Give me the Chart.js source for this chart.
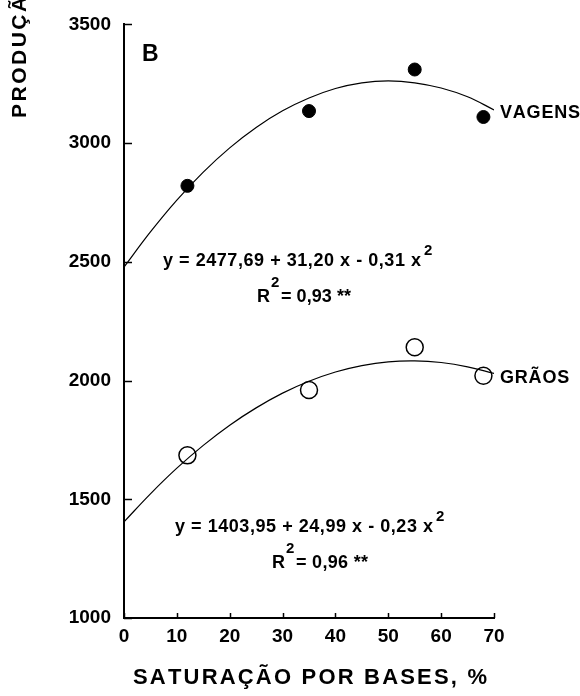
<!DOCTYPE html>
<html>
<head>
<meta charset="utf-8">
<script src="https://cdn.jsdelivr.net/npm/chart.js@4"></script>
<style>
html,body{margin:0;padding:0;background:#fff;}
canvas{display:block;}
</style>
</head>
<body>
<canvas id="c" width="580" height="696"></canvas>
<script>
// ---- data ----
const xTreat = [12, 35, 55, 68];
const vagens = [2820, 3135, 3310, 3110];
const graos = [1685, 1960, 2140, 2020];
const curveX = [0, 5, 10, 15, 20, 25, 30, 35, 40, 45, 50, 55, 60, 65, 70];
const vagensFit = [2478, 2626, 2760, 2878, 2980, 3066, 3136, 3190, 3230, 3254, 3262, 3254, 3232, 3195, 3140];
const graosFit = [1405, 1523, 1631, 1727, 1812, 1885, 1947, 1997, 2036, 2063, 2079, 2083, 2076, 2058, 2030];
const xTicks = [0, 10, 20, 30, 40, 50, 60, 70];
const yTicks = [1000, 1500, 2000, 2500, 3000, 3500];
const seriesLabels = ['VAGENS', 'GRÃOS'];
const eq1 = 'y = 2477,69 + 31,20 x - 0,31 x';
const r1 = '= 0,93 **';
const eq2 = 'y = 1403,95 + 24,99 x - 0,23 x';
const r2 = '= 0,96 **';
const panelLabel = 'B';
const xTitle = 'SATURAÇÃO POR BASES, %';
const yTitle = 'PRODUÇÃO, kg/ha';

const pts = (xs, ys) => xs.map((x, i) => ({x: x, y: ys[i]}));
const FONT = '"Liberation Sans", Arial, sans-serif';

function spacedText(ctx, text, x, y, spacing) {
  let cx = x;
  for (const ch of text) {
    ctx.fillText(ch, cx, y);
    cx += ctx.measureText(ch).width + spacing;
  }
  return cx - spacing;
}
function spacedWidth(ctx, text, spacing) {
  let w = 0; let n = 0;
  for (const ch of text) { w += ctx.measureText(ch).width; n++; }
  return w + spacing * (n - 1);
}
function fitText(ctx, text, x, y, width) {
  let n = [...text].length;
  let base = spacedWidth(ctx, text, 0);
  let sp = (width - base) / (n - 1);
  return spacedText(ctx, text, x, y, sp);
}

const annot = {
  id: 'annot',
  afterDraw(chart) {
    const ctx = chart.ctx;
    const xs = chart.scales.x, ys = chart.scales.y;
    ctx.save();
    ctx.strokeStyle = '#000';
    ctx.lineWidth = 1.5;
    // inward ticks
    yTicks.forEach(v => {
      const py = Math.round(ys.getPixelForValue(v)) + 0.5;
      ctx.beginPath(); ctx.moveTo(xs.left, py); ctx.lineTo(xs.left + 8, py); ctx.stroke();
    });
    xTicks.forEach(v => {
      const px = Math.round(xs.getPixelForValue(v)) + 0.5;
      ctx.beginPath(); ctx.moveTo(px, ys.bottom); ctx.lineTo(px, ys.bottom - 5); ctx.stroke();
    });
    ctx.fillStyle = '#000';
    ctx.textBaseline = 'middle';
    ctx.textAlign = 'left';
    // panel letter
    ctx.font = 'bold 23px ' + FONT;
    ctx.fillText(panelLabel, 142, 55);
    // series labels
    ctx.font = 'bold 18px ' + FONT;
    spacedText(ctx, seriesLabels[0], 500, 113, 0.8);
    spacedText(ctx, seriesLabels[1], 500, 378, 0.8);
    // equations
    ctx.font = 'bold 18px ' + FONT;
    let e = fitText(ctx, eq1, 163, 261, 258);
    ctx.font = 'bold 15px ' + FONT;
    ctx.fillText('2', e + 3, 251);
    ctx.font = 'bold 18px ' + FONT;
    let rEnd = spacedText(ctx, 'R', 257, 297, 0);
    ctx.font = 'bold 15px ' + FONT;
    ctx.fillText('2', rEnd + 1, 283);
    ctx.font = 'bold 18px ' + FONT;
    fitText(ctx, r1, 281, 297, 70);

    ctx.font = 'bold 18px ' + FONT;
    e = fitText(ctx, eq2, 175, 527, 258);
    ctx.font = 'bold 15px ' + FONT;
    ctx.fillText('2', e + 3, 517);
    ctx.font = 'bold 18px ' + FONT;
    rEnd = spacedText(ctx, 'R', 272, 563, 0);
    ctx.font = 'bold 15px ' + FONT;
    ctx.fillText('2', rEnd + 1, 549);
    ctx.font = 'bold 18px ' + FONT;
    fitText(ctx, r2, 296, 563, 72);

    // x title
    ctx.font = 'bold 22px ' + FONT;
    fitText(ctx, xTitle, 133, 678, 354);
    // y title (rotated)
    ctx.translate(20, 118);
    ctx.rotate(-Math.PI / 2);
    ctx.font = 'bold 21px ' + FONT;
    spacedText(ctx, yTitle, 0, 0, 2.5);
    ctx.restore();
  }
};

new Chart(document.getElementById('c'), {
  type: 'scatter',
  data: {
    datasets: [
      {label: 'VAGENS ajuste', data: pts(curveX, vagensFit), showLine: true, borderColor: '#000', borderWidth: 1.2, pointRadius: 0, tension: 0.4, fill: false},
      {label: 'GRÃOS ajuste', data: pts(curveX, graosFit), showLine: true, borderColor: '#000', borderWidth: 1.2, pointRadius: 0, tension: 0.4, fill: false},
      {label: seriesLabels[0], data: pts(xTreat, vagens), pointRadius: 6.5, pointBackgroundColor: '#000', pointBorderColor: '#000', pointBorderWidth: 1},
      {label: seriesLabels[1], data: pts(xTreat, graos), pointRadius: 8.5, pointBackgroundColor: 'rgba(0,0,0,0)', pointBorderColor: '#000', pointBorderWidth: 1.5}
    ]
  },
  options: {
    responsive: false,
    animation: false,
    devicePixelRatio: 1,
    layout: {padding: {top: 20, right: 86, left: 0, bottom: 0}},
    plugins: {legend: {display: false}, tooltip: {enabled: false}},
    scales: {
      x: {
        type: 'linear', min: 0, max: 70,
        afterBuildTicks: s => { s.ticks = xTicks.map(v => ({value: v})); },
        afterFit: s => { s.height = 78; },
        grid: {display: true, drawOnChartArea: false, drawTicks: false},
        border: {display: true, color: '#000', width: 2},
        ticks: {color: '#000', padding: 7, font: {family: FONT, size: 19, weight: 'bold'}, maxRotation: 0, callback: v => String(v)}
      },
      y: {
        type: 'linear', min: 1000, max: 3500,
        afterBuildTicks: s => { s.ticks = yTicks.map(v => ({value: v})); },
        afterFit: s => { s.width = 124; },
        grid: {display: true, drawOnChartArea: false, drawTicks: false},
        border: {display: true, color: '#000', width: 2},
        ticks: {color: '#000', padding: 13, font: {family: FONT, size: 19, weight: 'bold'}, callback: v => String(v)}
      }
    }
  },
  plugins: [annot]
});
</script>
</body>
</html>
